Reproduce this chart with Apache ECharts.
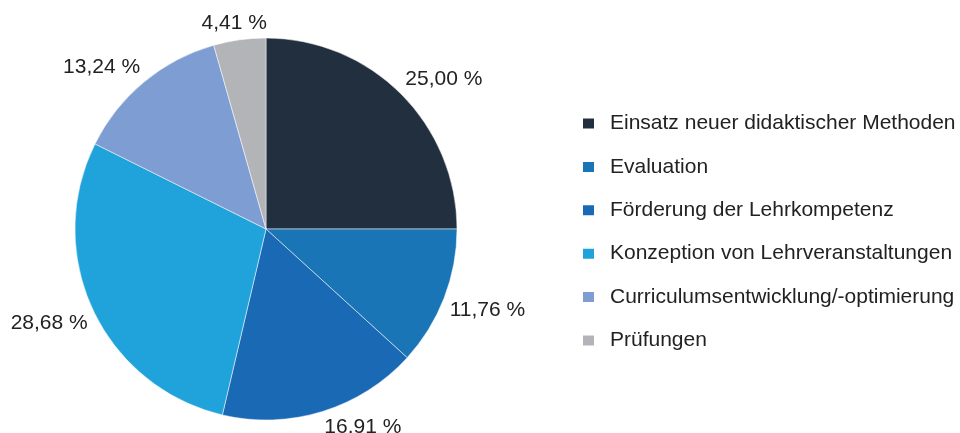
<!DOCTYPE html>
<html>
<head>
<meta charset="utf-8">
<script src="https://cdn.jsdelivr.net/npm/echarts@6/dist/echarts.min.js"></script>
<style>
  html, body { margin: 0; padding: 0; background: #fff; }
  #chart { width: 960px; height: 433px; }
</style>
</head>
<body>
<div id="chart"></div>
<script>
  // Anteile der Kategorien (in %)
  const categories = [
    "Einsatz neuer didaktischer Methoden",
    "Evaluation",
    "Förderung der Lehrkompetenz",
    "Konzeption von Lehrveranstaltungen",
    "Curriculumsentwicklung/-optimierung",
    "Prüfungen"
  ];
  const values = [25.00, 11.76, 16.91, 28.68, 13.24, 4.41];
  const labelTexts = ["25,00 %", "11,76 %", "16.91 %", "28,68 %", "13,24 %", "4,41 %"];
  const colors = ["#212f3f", "#1a75b6", "#1969b5", "#20a2da", "#7e9ed3", "#b3b4b8"];

  const FONT = "Liberation Sans";
  const chart = echarts.init(document.getElementById("chart"));

  // Beschriftung ausserhalb: Ecke des Textes zeigt auf den Rand des Segments
  function placeLabel(p) {
    const lay = chart.getModel().getSeriesByIndex(0).getData().getItemLayout(p.dataIndex);
    if (!lay) return {};
    const mid = (lay.startAngle + lay.endAngle) / 2;
    const ux = Math.cos(mid), uy = Math.sin(mid);
    const d = lay.r + 6;
    const w = p.labelRect.width, h = p.labelRect.height;
    const ox = Math.abs(ux) < 0.2 ? ux * w / 2 : Math.sign(ux) * w / 2;
    const oy = Math.sign(uy) * h / 2;
    return {
      x: lay.cx + d * ux + ox,
      y: lay.cy + d * uy + oy,
      align: "center",
      verticalAlign: "middle"
    };
  }

  const option = {
    animation: false,
    color: colors,
    legend: {
      orient: "vertical",
      left: 576,
      top: 108,
      itemWidth: 13,
      itemHeight: 12,
      itemGap: 22.4,
      icon: "rect",
      textStyle: {
        fontFamily: FONT,
        fontSize: 21,
        color: "#222",
        padding: [0, 0, 0, 10]
      },
      data: categories
    },
    series: [
      {
        type: "pie",
        center: [266, 229],
        radius: [0, 191],
        startAngle: 90,
        clockwise: true,
        avoidLabelOverlap: false,
        itemStyle: { borderColor: "#fff", borderWidth: 0.5 },
        label: {
          show: true,
          position: "outside",
          fontFamily: FONT,
          fontSize: 21,
          color: "#222",
          formatter: (p) => labelTexts[p.dataIndex]
        },
        labelLine: { show: false, length: 6, length2: 0 },
        labelLayout: placeLabel,
        emphasis: { disabled: true },
        data: categories.map((name, i) => ({ name: name, value: values[i] }))
      }
    ]
  };
  chart.setOption(option);
</script>
</body>
</html>
